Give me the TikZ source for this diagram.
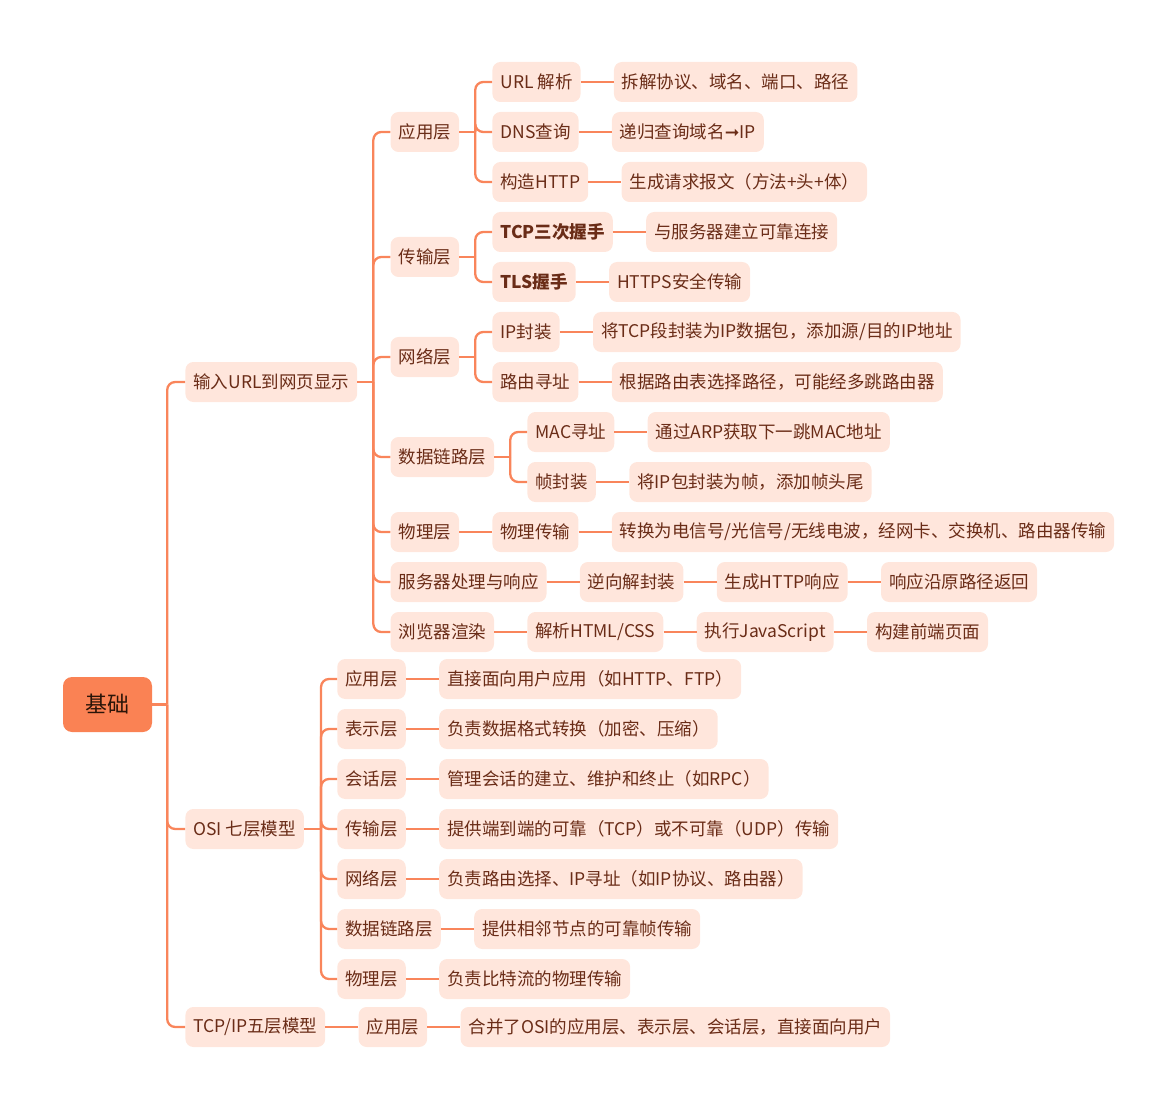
\documentclass[tikz,border=0pt]{standalone}
\usepackage{fontspec}
\setmainfont{Noto Sans CJK SC}
\newfontfamily\dejavu{DejaVu Sans}
\usetikzlibrary{calc}
\definecolor{lnc}{HTML}{F9855B}
\definecolor{bxf}{HTML}{FFE6DC}
\definecolor{txc}{HTML}{6A2C17}
\definecolor{rootf}{HTML}{FA8254}
\definecolor{roottx}{HTML}{2A1408}
\begin{document}
\begin{tikzpicture}[x=1pt,y=-1pt,
  nd/.style={rounded corners=8pt, fill=bxf, text=txc, inner xsep=8pt, inner ysep=0pt,
    minimum height=40pt, font=\fontsize{17.5}{20}\selectfont, anchor=west},
  rootnd/.style={rounded corners=9pt, fill=rootf, text=roottx, minimum width=89pt,
    minimum height=55pt, font=\fontsize{22}{26}\selectfont},
  conn/.style={draw=lnc, line width=2.3pt, rounded corners=8pt}]
\useasboundingbox (0,0) rectangle (1171,1110);

% root and level 1
\node[rootnd] (root) at (107.5,704.5) {基础};
\node[nd] (u) at ($(root.east |- 0,382)+(33,0)$) {输入URL到网页显示};
\node[nd] (osi) at ($(root.east |- 0,829)+(33,0)$) {OSI 七层模型};
\node[nd] (tcp) at ($(root.east |- 0,1027)+(33,0)$) {TCP/IP五层模型};

% level 2 under URL
\node[nd] (u1) at ($(u.east |- 0,132)+(33,0)$) {应用层};
\node[nd] (u2) at ($(u.east |- 0,257)+(33,0)$) {传输层};
\node[nd] (u3) at ($(u.east |- 0,357)+(33,0)$) {网络层};
\node[nd] (u4) at ($(u.east |- 0,457)+(33,0)$) {数据链路层};
\node[nd] (u5) at ($(u.east |- 0,532)+(33,0)$) {物理层};
\node[nd] (u6) at ($(u.east |- 0,582)+(33,0)$) {服务器处理与响应};
\node[nd] (u7) at ($(u.east |- 0,632)+(33,0)$) {浏览器渲染};

% application layer
\node[nd] (a1) at ($(u1.east |- 0,82)+(33,0)$) {URL 解析};
\node[nd] (a2) at ($(u1.east |- 0,132)+(33,0)$) {DNS查询};
\node[nd] (a3) at ($(u1.east |- 0,182)+(33,0)$) {构造HTTP};
\node[nd] (a1l) at ($(a1.east)+(33,0)$) {拆解协议、域名、端口、路径};
\node[nd] (a2l) at ($(a2.east)+(33,0)$) {递归查询域名{\dejavu ➞}IP};
\node[nd] (a3l) at ($(a3.east)+(33,0)$) {生成请求报文（方法+头+体）};

% transport layer
\node[nd, font=\fontsize{17.5}{20}\selectfont\bfseries] (t1) at ($(u2.east |- 0,232)+(33,0)$) {TCP三次握手};
\node[nd, font=\fontsize{17.5}{20}\selectfont\bfseries] (t2) at ($(u2.east |- 0,282)+(33,0)$) {TLS握手};
\node[nd] (t1l) at ($(t1.east)+(33,0)$) {与服务器建立可靠连接};
\node[nd] (t2l) at ($(t2.east)+(33,0)$) {HTTPS安全传输};

% network layer
\node[nd] (n1) at ($(u3.east |- 0,332)+(33,0)$) {IP封装};
\node[nd] (n2) at ($(u3.east |- 0,382)+(33,0)$) {路由寻址};
\node[nd] (n1l) at ($(n1.east)+(33,0)$) {将TCP段封装为IP数据包，添加源/目的IP地址};
\node[nd] (n2l) at ($(n2.east)+(33,0)$) {根据路由表选择路径，可能经多跳路由器};

% data link layer
\node[nd] (d1) at ($(u4.east |- 0,432)+(33,0)$) {MAC寻址};
\node[nd] (d2) at ($(u4.east |- 0,482)+(33,0)$) {帧封装};
\node[nd] (d1l) at ($(d1.east)+(33,0)$) {通过ARP获取下一跳MAC地址};
\node[nd] (d2l) at ($(d2.east)+(33,0)$) {将IP包封装为帧，添加帧头尾};

% physical
\node[nd] (p1) at ($(u5.east)+(33,0)$) {物理传输};
\node[nd] (p2) at ($(p1.east)+(33,0)$) {转换为电信号/光信号/无线电波，经网卡、交换机、路由器传输};

% server
\node[nd] (s1) at ($(u6.east)+(33,0)$) {逆向解封装};
\node[nd] (s2) at ($(s1.east)+(33,0)$) {生成HTTP响应};
\node[nd] (s3) at ($(s2.east)+(33,0)$) {响应沿原路径返回};

% browser
\node[nd] (b1) at ($(u7.east)+(33,0)$) {解析HTML/CSS};
\node[nd] (b2) at ($(b1.east)+(33,0)$) {执行JavaScript};
\node[nd] (b3) at ($(b2.east)+(33,0)$) {构建前端页面};

% OSI
\node[nd] (o1) at ($(osi.east |- 0,679)+(33,0)$) {应用层};
\node[nd] (o2) at ($(osi.east |- 0,729)+(33,0)$) {表示层};
\node[nd] (o3) at ($(osi.east |- 0,779)+(33,0)$) {会话层};
\node[nd] (o4) at ($(osi.east |- 0,829)+(33,0)$) {传输层};
\node[nd] (o5) at ($(osi.east |- 0,879)+(33,0)$) {网络层};
\node[nd] (o6) at ($(osi.east |- 0,929)+(33,0)$) {数据链路层};
\node[nd] (o7) at ($(osi.east |- 0,979)+(33,0)$) {物理层};
\node[nd] (o1l) at ($(o1.east)+(33,0)$) {直接面向用户应用（如HTTP、FTP）};
\node[nd] (o2l) at ($(o2.east)+(33,0)$) {负责数据格式转换（加密、压缩）};
\node[nd] (o3l) at ($(o3.east)+(33,0)$) {管理会话的建立、维护和终止（如RPC）};
\node[nd] (o4l) at ($(o4.east)+(33,0)$) {提供端到端的可靠（TCP）或不可靠（UDP）传输};
\node[nd] (o5l) at ($(o5.east)+(33,0)$) {负责路由选择、IP寻址（如IP协议、路由器）};
\node[nd] (o6l) at ($(o6.east)+(33,0)$) {提供相邻节点的可靠帧传输};
\node[nd] (o7l) at ($(o7.east)+(33,0)$) {负责比特流的物理传输};

% TCP/IP
\node[nd] (c1) at ($(tcp.east)+(33,0)$) {应用层};
\node[nd] (c2) at ($(c1.east)+(33,0)$) {合并了OSI的应用层、表示层、会话层，直接面向用户};

% junctions
\coordinate (rootj) at ($(root.east)+(15,0)$);
\coordinate (uj) at ($(u.east)+(16,0)$);
\coordinate (u1j) at ($(u1.east)+(16,0)$);
\coordinate (u2j) at ($(u2.east)+(16,0)$);
\coordinate (u3j) at ($(u3.east)+(16,0)$);
\coordinate (u4j) at ($(u4.east)+(16,0)$);
\coordinate (osij) at ($(osi.east)+(17,0)$);

% connectors
\draw[conn] (root.east) -- (rootj);
\foreach \c in {u,osi,tcp} \draw[conn] (rootj) |- (\c.west);
\draw[conn] (u.east) -- (uj);
\foreach \c in {u1,u2,u3,u4,u5,u6,u7} \draw[conn] (uj) |- (\c.west);
\draw[conn] (u1.east) -- (u1j);
\foreach \c in {a1,a2,a3} \draw[conn] (u1j) |- (\c.west);
\draw[conn] (u2.east) -- (u2j);
\foreach \c in {t1,t2} \draw[conn] (u2j) |- (\c.west);
\draw[conn] (u3.east) -- (u3j);
\foreach \c in {n1,n2} \draw[conn] (u3j) |- (\c.west);
\draw[conn] (u4.east) -- (u4j);
\foreach \c in {d1,d2} \draw[conn] (u4j) |- (\c.west);
\draw[conn] (osi.east) -- (osij);
\foreach \c in {o1,o2,o3,o4,o5,o6,o7} \draw[conn] (osij) |- (\c.west);
\foreach \a/\b in {a1/a1l,a2/a2l,a3/a3l,t1/t1l,t2/t2l,n1/n1l,n2/n2l,d1/d1l,d2/d2l,
  u5/p1,p1/p2,u6/s1,s1/s2,s2/s3,u7/b1,b1/b2,b2/b3,
  o1/o1l,o2/o2l,o3/o3l,o4/o4l,o5/o5l,o6/o6l,o7/o7l,tcp/c1,c1/c2}
  \draw[conn] (\a.east) -- (\b.west);
\end{tikzpicture}
\end{document}
